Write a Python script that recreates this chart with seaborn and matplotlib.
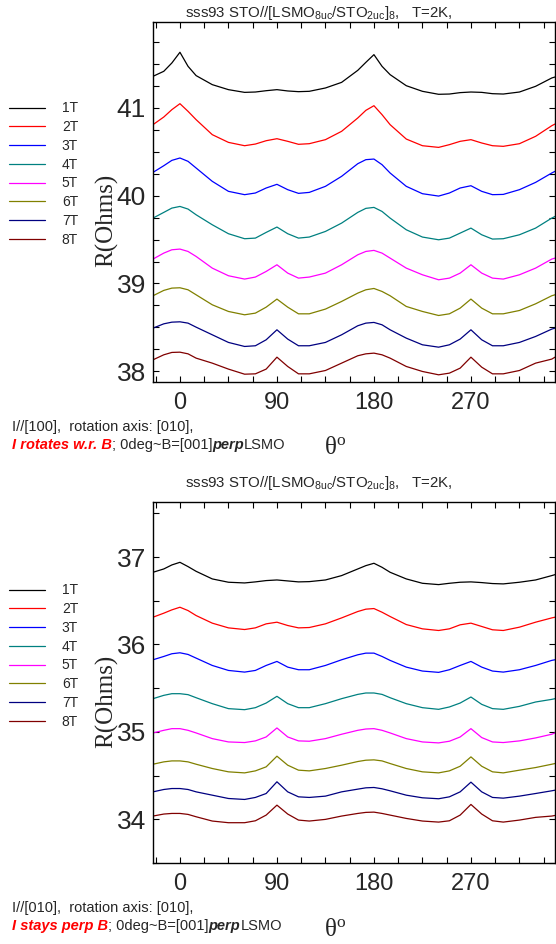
import numpy as np
import pandas as pd
import matplotlib
matplotlib.use("Agg")
import matplotlib.pyplot as plt
import seaborn as sns
from matplotlib.ticker import FixedLocator, MultipleLocator

# ---------------- data ----------------
angles = [-25, -15, -7.5, 0, 7.5, 15, 30, 45, 60, 70, 80, 90, 100, 110, 120, 135, 150,
          165, 172.5, 180, 187.5, 195, 210, 225, 240, 250, 260, 270, 280, 290, 300,
          315, 330, 345, 348]
fields = ["1T", "2T", "3T", "4T", "5T", "6T", "7T", "8T"]
field_colors = ["#000000", "#FF0000", "#0000FF", "#008080", "#FF00FF", "#808000",
                "#000080", "#800000"]

# top panel: I//[100], I rotates w.r. B
top_1T = [41.361, 41.418, 41.513, 41.635, 41.475, 41.369, 41.266, 41.209, 41.178, 41.182,
          41.197, 41.209, 41.194, 41.186, 41.190, 41.228, 41.292, 41.429, 41.520, 41.608,
          41.475, 41.380, 41.254, 41.190, 41.156, 41.159, 41.175, 41.182, 41.178, 41.163,
          41.159, 41.182, 41.247, 41.342, 41.353]
top_2T = [40.810, 40.897, 40.981, 41.049, 40.962, 40.867, 40.696, 40.608, 40.570, 40.589,
          40.627, 40.650, 40.620, 40.586, 40.593, 40.639, 40.734, 40.886, 40.973, 41.026,
          40.924, 40.810, 40.646, 40.570, 40.551, 40.582, 40.620, 40.639, 40.601, 40.570,
          40.563, 40.593, 40.677, 40.798, 40.817]
top_3T = [40.266, 40.342, 40.403, 40.430, 40.392, 40.316, 40.164, 40.050, 40.012, 40.031,
          40.088, 40.130, 40.069, 40.027, 40.038, 40.107, 40.221, 40.365, 40.411, 40.418,
          40.354, 40.259, 40.107, 40.023, 39.996, 40.031, 40.088, 40.114, 40.050, 40.012,
          40.015, 40.069, 40.152, 40.259, 40.278]
top_4T = [39.745, 39.810, 39.859, 39.878, 39.848, 39.783, 39.669, 39.567, 39.510, 39.517,
          39.582, 39.643, 39.567, 39.517, 39.529, 39.593, 39.688, 39.810, 39.856, 39.867,
          39.821, 39.745, 39.612, 39.529, 39.498, 39.517, 39.574, 39.631, 39.555, 39.506,
          39.510, 39.555, 39.631, 39.745, 39.764]
top_5T = [39.278, 39.346, 39.384, 39.392, 39.365, 39.308, 39.175, 39.088, 39.050, 39.073,
          39.137, 39.213, 39.118, 39.061, 39.073, 39.118, 39.213, 39.327, 39.365, 39.377,
          39.346, 39.289, 39.175, 39.099, 39.042, 39.061, 39.118, 39.213, 39.118, 39.061,
          39.050, 39.099, 39.175, 39.278, 39.289]
top_6T = [38.860, 38.921, 38.947, 38.951, 38.928, 38.871, 38.757, 38.681, 38.643, 38.662,
          38.730, 38.822, 38.730, 38.654, 38.654, 38.708, 38.795, 38.890, 38.928, 38.943,
          38.909, 38.860, 38.738, 38.681, 38.635, 38.654, 38.719, 38.822, 38.719, 38.654,
          38.654, 38.692, 38.768, 38.860, 38.871]
top_7T = [38.491, 38.540, 38.559, 38.563, 38.548, 38.502, 38.415, 38.328, 38.282, 38.290,
          38.358, 38.472, 38.366, 38.290, 38.290, 38.328, 38.415, 38.518, 38.548, 38.556,
          38.529, 38.472, 38.377, 38.301, 38.274, 38.301, 38.366, 38.472, 38.358, 38.290,
          38.290, 38.328, 38.396, 38.480, 38.491]
top_8T = [38.130, 38.187, 38.214, 38.217, 38.198, 38.149, 38.092, 38.024, 37.966, 37.970,
          38.024, 38.160, 38.054, 37.970, 37.970, 38.008, 38.092, 38.176, 38.198, 38.206,
          38.187, 38.149, 38.054, 37.997, 37.959, 37.978, 38.035, 38.160, 38.046, 37.970,
          37.970, 38.008, 38.092, 38.138, 38.160]

# bottom panel: I//[010], I stays perp B
bot_1T = [36.826, 36.864, 36.910, 36.940, 36.891, 36.837, 36.750, 36.712, 36.704, 36.716,
          36.731, 36.738, 36.727, 36.716, 36.719, 36.738, 36.788, 36.864, 36.902, 36.929,
          36.883, 36.826, 36.750, 36.700, 36.685, 36.700, 36.712, 36.716, 36.708, 36.697,
          36.693, 36.712, 36.738, 36.788, 36.799]
bot_2T = [36.312, 36.358, 36.396, 36.426, 36.388, 36.331, 36.244, 36.190, 36.171, 36.190,
          36.236, 36.255, 36.217, 36.190, 36.194, 36.236, 36.304, 36.377, 36.404, 36.411,
          36.369, 36.320, 36.228, 36.179, 36.160, 36.179, 36.225, 36.244, 36.206, 36.168,
          36.160, 36.198, 36.255, 36.304, 36.312]
bot_3T = [35.825, 35.863, 35.894, 35.905, 35.886, 35.844, 35.760, 35.703, 35.684, 35.703,
          35.760, 35.806, 35.741, 35.711, 35.711, 35.760, 35.825, 35.882, 35.901, 35.901,
          35.863, 35.818, 35.741, 35.696, 35.681, 35.711, 35.760, 35.806, 35.741, 35.696,
          35.684, 35.711, 35.760, 35.818, 35.825]
bot_4T = [35.380, 35.418, 35.437, 35.437, 35.426, 35.391, 35.323, 35.266, 35.254, 35.277,
          35.330, 35.407, 35.323, 35.277, 35.277, 35.323, 35.380, 35.429, 35.445, 35.445,
          35.429, 35.391, 35.323, 35.277, 35.258, 35.285, 35.330, 35.399, 35.315, 35.266,
          35.258, 35.292, 35.342, 35.372, 35.380]
bot_5T = [34.988, 35.018, 35.037, 35.037, 35.018, 34.988, 34.923, 34.885, 34.878, 34.897,
          34.942, 35.045, 34.942, 34.897, 34.893, 34.923, 34.973, 35.018, 35.033, 35.037,
          35.018, 34.988, 34.923, 34.885, 34.874, 34.893, 34.942, 35.037, 34.935, 34.885,
          34.878, 34.897, 34.931, 34.973, 34.988]
bot_6T = [34.630, 34.657, 34.668, 34.668, 34.657, 34.630, 34.581, 34.543, 34.531, 34.554,
          34.600, 34.722, 34.619, 34.562, 34.554, 34.581, 34.619, 34.661, 34.676, 34.680,
          34.668, 34.638, 34.581, 34.543, 34.531, 34.554, 34.607, 34.714, 34.607, 34.543,
          34.531, 34.562, 34.592, 34.630, 34.638]
bot_7T = [34.314, 34.341, 34.352, 34.352, 34.341, 34.314, 34.276, 34.238, 34.227, 34.250,
          34.295, 34.429, 34.314, 34.257, 34.250, 34.265, 34.314, 34.345, 34.360, 34.364,
          34.349, 34.326, 34.276, 34.246, 34.235, 34.257, 34.314, 34.425, 34.314, 34.250,
          34.242, 34.265, 34.295, 34.326, 34.333]
bot_8T = [34.037, 34.060, 34.067, 34.067, 34.056, 34.029, 33.980, 33.961, 33.961, 33.983,
          34.048, 34.162, 34.060, 33.991, 33.980, 33.999, 34.037, 34.067, 34.079, 34.082,
          34.067, 34.048, 34.010, 33.980, 33.968, 33.983, 34.048, 34.170, 34.060, 33.983,
          33.968, 33.991, 34.022, 34.037, 34.044]

x_ticks = [0, 90, 180, 270]
title_text = r"sss93 STO//[LSMO$_{8uc}$/STO$_{2uc}$]$_{8}$,   T=2K,"

# ---------------- build tables ----------------
def make_df(series):
    rows = []
    for f, vals in zip(fields, series):
        for a, v in zip(angles, vals):
            rows.append((a, v, f))
    return pd.DataFrame(rows, columns=["angle", "R", "field"])

df_top = make_df([top_1T, top_2T, top_3T, top_4T, top_5T, top_6T, top_7T, top_8T])
df_bot = make_df([bot_1T, bot_2T, bot_3T, bot_4T, bot_5T, bot_6T, bot_7T, bot_8T])

# ---------------- style ----------------
sns.set_style("ticks")
plt.rcParams["font.family"] = ["Liberation Sans", "DejaVu Sans"]
plt.rcParams["mathtext.default"] = "regular"
plt.rcParams["axes.linewidth"] = 1.0

W, H = 556, 944
fig = plt.figure(figsize=(W / 100, H / 100), dpi=100)

def px_rect(l, t, r, b):
    return [l / W, 1 - b / H, (r - l) / W, (b - t) / H]

ax_top = fig.add_axes(px_rect(153, 22, 555, 382))
ax_bot = fig.add_axes(px_rect(153, 502, 555, 863))

palette = dict(zip(fields, field_colors))

def draw_panel(ax, df, ylim, minor_step, leg_center_y):
    sns.lineplot(data=df, x="angle", y="R", hue="field", hue_order=fields,
                 palette=palette, estimator=None, sort=False, lw=0.9,
                 legend=False, ax=ax)
    ax.set_xlim(-25, 348)
    ax.set_ylim(*ylim)
    ax.xaxis.set_major_locator(FixedLocator(x_ticks))
    ax.xaxis.set_minor_locator(MultipleLocator(22.5))
    ax.yaxis.set_major_locator(MultipleLocator(1))
    ax.yaxis.set_minor_locator(MultipleLocator(minor_step))
    ax.tick_params(axis="both", which="both", direction="in", top=True, right=True,
                   length=4.5, width=0.8, color="black")
    ax.tick_params(axis="x", which="major", labelsize=17, pad=7)
    ax.tick_params(axis="y", which="major", labelsize=19, pad=5)
    ax.set_xlabel("")
    ax.set_ylabel("")
    for s in ax.spines.values():
        s.set_visible(True)
        s.set_color("black")
    handles = ax.get_lines()[:8]
    fig.legend(handles, fields, loc="center left",
               bbox_to_anchor=(9 / W, 1 - leg_center_y / H), frameon=False,
               fontsize=10, handlelength=2.6, handletextpad=1.2,
               labelspacing=0.34, borderpad=0, borderaxespad=0)

draw_panel(ax_top, df_top, (37.877, 41.98), 0.25, 174)
draw_panel(ax_bot, df_bot, (33.50, 37.63), 0.5, 656)

def ftext(x, y, s, **kw):
    return fig.text(x / W, 1 - y / H, s, **kw)

# titles
ftext(185, 17.5, title_text, fontsize=10.8, ha="left", va="baseline")
ftext(185, 487, title_text, fontsize=10.8, ha="left", va="baseline")

# y labels
for yc in (220, 701):
    ftext(107, yc, "R(Ohms)", rotation=90, ha="center", va="center",
          family=["Liberation Serif", "DejaVu Serif"], fontsize=18)

# x labels
for yb in (454, 936):
    ftext(324, yb, r"θ$^{o}$", ha="left", va="baseline",
          family=["Liberation Serif", "DejaVu Serif"], fontsize=18)

renderer = fig.canvas.get_renderer()

def mixed(x0, yb, parts):
    x = x0
    for s, props in parts:
        t = ftext(x, yb, s, ha="left", va="baseline", fontsize=10.5, **props)
        bb = t.get_window_extent(renderer=renderer)
        x = bb.x1

bi_red = dict(color="#FF0000", fontweight="bold", fontstyle="italic")
bi = dict(fontweight="bold", fontstyle="italic")

ftext(12, 431, "I//[100],  rotation axis: [010],", ha="left", va="baseline", fontsize=10.5)
mixed(12, 449, [("I rotates w.r. B", bi_red), ("; 0deg~B=[001]", {}),
                ("perp", bi), ("LSMO", {})])

ftext(12, 912, "I//[010],  rotation axis: [010],", ha="left", va="baseline", fontsize=10.5)
mixed(12, 930, [("I stays perp B", bi_red), ("; 0deg~B=[001]", {}),
                ("perp", bi), ("LSMO", {})])

fig.savefig("out.png", dpi=100)
